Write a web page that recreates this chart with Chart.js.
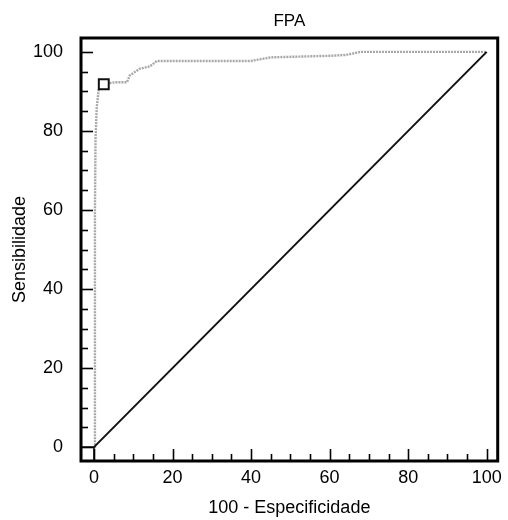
<!DOCTYPE html>
<html>
<head>
<meta charset="utf-8">
<title>FPA</title>
<script src="https://cdn.jsdelivr.net/npm/chart.js@4/dist/chart.umd.min.js"></script>
<style>
  html, body { margin: 0; padding: 0; background: #ffffff; }
  #wrap { width: 508px; height: 520px; }
</style>
</head>
<body>
<div id="wrap"><canvas id="roc" width="508" height="520"></canvas></div>
<script>
// ROC curve for FPA: 100 - specificity (x) against sensitivity (y)
const rocFpr  = [0, 0.25, 0.25, 0.4, 0.7, 1.2, 2.0, 2.5, 5.3, 8.4, 9.1, 11.6, 14.2, 16.0, 30.0, 40.0, 45.0, 60.0, 64.0, 68.0, 100];
const rocSens = [0, 0,    60.0, 78.0, 85.8, 90.4, 91.0, 91.8, 92.3, 92.3, 94.0, 95.7, 96.3, 97.7, 97.7, 97.7, 98.6, 99.0, 99.2, 100, 100];

// optimal cut-off point
const cutoffFpr  = [2.5];
const cutoffSens = [91.8];

// chance (reference) line
const refFpr  = [0, 100];
const refSens = [0, 100];

// axes
const xTickValues = [0, 20, 40, 60, 80, 100];
const yTickValues = [0, 20, 40, 60, 80, 100];
const xRange = [-3.3, 102.8];
const yRange = [-3.5, 103.5];

const toPoints = (xs, ys) => xs.map((x, i) => ({ x: x, y: ys[i] }));

// frame around the plot area, drawn on top of the lines
const framePlugin = {
  id: 'frame',
  afterDraw(chart) {
    const { ctx, chartArea: a } = chart;
    ctx.save();
    ctx.strokeStyle = '#000';
    ctx.lineWidth = 3;
    ctx.strokeRect(a.left, a.top, a.right - a.left, a.bottom - a.top);
    ctx.restore();
  }
};

// tick marks pointing into the plot, minor every 5, major every 20
const innerTicksPlugin = {
  id: 'innerTicks',
  afterDraw(chart) {
    const { ctx, chartArea: a, scales } = chart;
    ctx.save();
    ctx.strokeStyle = '#000';
    ctx.lineWidth = 1.6;
    for (let v = 0; v <= 100; v += 5) {
      const len = v % 20 === 0 ? 12 : 7;
      const px = Math.round(scales.x.getPixelForValue(v)) + 0.5;
      ctx.beginPath();
      ctx.moveTo(px, a.bottom);
      ctx.lineTo(px, a.bottom - len);
      ctx.stroke();
      const py = Math.round(scales.y.getPixelForValue(v)) + 0.5;
      ctx.beginPath();
      ctx.moveTo(a.left, py);
      ctx.lineTo(a.left + len, py);
      ctx.stroke();
    }
    ctx.restore();
  }
};

const tickFont = { family: '"Liberation Sans", Arial, sans-serif', size: 18 };
const titleFont = { family: '"Liberation Sans", Arial, sans-serif', size: 18 };

new Chart(document.getElementById('roc'), {
  type: 'scatter',
  data: {
    datasets: [
      {
        label: 'ROC',
        data: toPoints(rocFpr, rocSens),
        showLine: true,
        borderColor: '#a8a8a8',
        borderWidth: 2.4,
        borderDash: [2, 1],
        pointRadius: 0,
        fill: false,
        order: 2
      },
      {
        label: 'Referência',
        data: toPoints(refFpr, refSens),
        showLine: true,
        borderColor: '#111',
        borderWidth: 2,
        pointRadius: 0,
        order: 1
      },
      {
        label: 'Origem',
        data: [{ x: xRange[0], y: 0 }, { x: 0, y: 0 }, { x: 0, y: yRange[0] }],
        showLine: true,
        borderColor: '#111',
        borderWidth: 1.6,
        pointRadius: 0,
        order: 1
      },
      {
        label: 'Ponto de corte',
        data: toPoints(cutoffFpr, cutoffSens),
        showLine: false,
        pointStyle: 'rect',
        pointRadius: 7,
        pointBorderWidth: 2,
        pointBorderColor: '#111',
        pointBackgroundColor: '#fff',
        order: 0
      }
    ]
  },
  options: {
    responsive: false,
    animation: false,
    devicePixelRatio: 1,
    layout: { padding: { left: 0, right: 7, top: 0, bottom: 0 } },
    plugins: {
      legend: { display: false },
      tooltip: { enabled: false },
      title: {
        display: true,
        text: 'FPA',
        fullSize: false,
        color: '#000',
        font: { family: '"Liberation Sans", Arial, sans-serif', size: 17, weight: 'normal' },
        padding: { top: 11, bottom: 6.6 }
      }
    },
    scales: {
      x: {
        type: 'linear',
        min: xRange[0],
        max: xRange[1],
        afterBuildTicks: s => { s.ticks = xTickValues.map(v => ({ value: v })); },
        afterFit: s => { s.height = 59; },
        grid: { display: false, drawTicks: false },
        border: { display: false },
        ticks: { color: '#000', font: tickFont, padding: 6, maxRotation: 0, callback: v => String(v) },
        title: {
          display: true,
          text: '100 - Especificidade',
          color: '#000',
          font: titleFont,
          padding: { top: 0, bottom: 1 }
        }
      },
      y: {
        type: 'linear',
        min: yRange[0],
        max: yRange[1],
        afterBuildTicks: s => { s.ticks = yTickValues.map(v => ({ value: v })); },
        afterFit: s => { s.width = 81; },
        grid: { display: false, drawTicks: false },
        border: { display: false },
        ticks: { color: '#000', font: tickFont, padding: 18, callback: v => String(v) },
        title: {
          display: true,
          text: 'Sensibilidade',
          color: '#000',
          font: titleFont,
          padding: { top: 9, bottom: 0 }
        }
      }
    }
  },
  plugins: [framePlugin, innerTicksPlugin]
});
</script>
</body>
</html>
